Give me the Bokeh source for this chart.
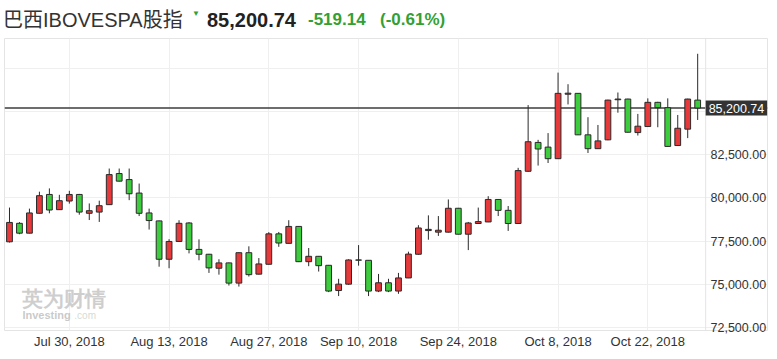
from bokeh.plotting import figure
from bokeh.models import (Range1d, FixedTicker, Span, Label, Div, ColumnDataSource,
                          NumeralTickFormatter)
from bokeh.layouts import column
from bokeh.embed import file_html
from bokeh.resources import INLINE

# ---------------- data ----------------
dates = [
    "2018-07-20", "2018-07-23", "2018-07-24", "2018-07-25", "2018-07-26", "2018-07-27",
    "2018-07-30", "2018-07-31", "2018-08-01", "2018-08-02", "2018-08-03",
    "2018-08-06", "2018-08-07", "2018-08-08", "2018-08-09", "2018-08-10",
    "2018-08-13", "2018-08-14", "2018-08-15", "2018-08-16", "2018-08-17",
    "2018-08-20", "2018-08-21", "2018-08-22", "2018-08-23", "2018-08-24",
    "2018-08-27", "2018-08-28", "2018-08-29", "2018-08-30", "2018-08-31",
    "2018-09-03", "2018-09-04", "2018-09-05", "2018-09-06",
    "2018-09-10", "2018-09-11", "2018-09-12", "2018-09-13", "2018-09-14",
    "2018-09-17", "2018-09-18", "2018-09-19", "2018-09-20", "2018-09-21",
    "2018-09-24", "2018-09-25", "2018-09-26", "2018-09-27", "2018-09-28",
    "2018-10-01", "2018-10-02", "2018-10-03", "2018-10-04", "2018-10-05",
    "2018-10-08", "2018-10-09", "2018-10-10", "2018-10-11",
    "2018-10-15", "2018-10-16", "2018-10-17", "2018-10-18", "2018-10-19",
    "2018-10-22", "2018-10-23", "2018-10-24", "2018-10-25", "2018-10-26",
    "2018-10-29",
]

opens = [77460, 78530, 77960, 79110, 80200, 79320, 79820, 80200, 79110, 79180,
         79610, 81410, 81060, 80280, 79130, 78670, 76450, 77480, 78550, 77020,
         76740, 75930, 76240, 75070, 76830, 75590, 76160, 77920, 77370, 78350,
         76310, 76620, 76100, 74640, 75010, 76410, 76390, 74610, 75090, 74610,
         75370, 76740, 78110, 78020, 78020, 79400, 77900, 78520, 78610, 79910,
         79280, 78520, 81540, 83210, 82940, 82270, 86000, 86050, 83650, 82850,
         83360, 85680, 85720, 83780, 84130, 85530, 85220, 83030, 83980, 85660]

highs = [79440, 78600, 79380, 80360, 80550, 80180, 80410, 80230, 79680, 79840,
         81700, 81700, 81700, 80830, 79380, 78690, 77610, 78710, 78600, 77600,
         76760, 76450, 76260, 76850, 77200, 76520, 78020, 78030, 78710, 78370,
         77100, 76640, 76120, 75320, 76450, 77270, 76400, 75600, 75320, 75660,
         76890, 78420, 78990, 78950, 79910, 79420, 78610, 79440, 80100, 79930,
         79530, 81740, 85370, 83360, 83750, 87250, 86580, 86070, 84670, 84220,
         85680, 86100, 85740, 84860, 85760, 85560, 85760, 84800, 85740, 88340]

lows = [77420, 77900, 77950, 79100, 79110, 79300, 79670, 79030, 78720, 78610,
        79600, 80950, 79870, 78950, 78170, 76020, 75930, 77470, 76790, 76390,
        75660, 75560, 74930, 74870, 75450, 75570, 76150, 77170, 77360, 76290,
        76050, 75740, 74550, 74320, 74970, 76080, 74320, 74550, 74550, 74450,
        75360, 76720, 77580, 77800, 78000, 77890, 76980, 78510, 78600, 78950,
        78090, 78500, 81520, 81870, 82020, 82250, 85410, 83640, 82600, 82830,
        83340, 84930, 83790, 83610, 84110, 84090, 82960, 83010, 83460, 84510]

closes = [78580, 77960, 79130, 80130, 79300, 79840, 80200, 79180, 79260, 79550,
          81350, 80970, 80240, 79110, 78690, 76450, 77480, 78530, 77020, 76740,
          75950, 76240, 75070, 76830, 75560, 76180, 77920, 77390, 78350, 76310,
          76620, 76080, 74610, 75010, 76410, 76400, 74610, 75090, 74610, 75370,
          76750, 78260, 78180, 78130, 79400, 77900, 78550, 78630, 79910, 79280,
          78520, 81580, 83250, 82830, 82270, 86050, 86060, 83650, 82850, 83300,
          85660, 85720, 83800, 84150, 85530, 85220, 82980, 84030, 85720, 85200.74]

tick_dates = ["2018-07-30", "2018-08-13", "2018-08-27", "2018-09-10",
              "2018-09-24", "2018-10-08", "2018-10-22"]
tick_labels = ["Jul 30, 2018", "Aug 13, 2018", "Aug 27, 2018", "Sep 10, 2018",
               "Sep 24, 2018", "Oct 8, 2018", "Oct 22, 2018"]
y_label_ticks = [72500, 75000, 77500, 80000, 82500]
y_grid_ticks = [72500, 75000, 77500, 80000, 82500, 85000, 87500]

title_name = "巴西IBOVESPA股指"
last_price = 85200.74
last_price_text = "85,200.74"
change_text = "-519.14"
change_pct_text = "(-0.61%)"
watermark_cn = "英为财情"
watermark_en = "Investing"
watermark_com = ".com"

# ---------------- styling ----------------
UP_FILL = "#e5393b"
DOWN_FILL = "#3dcc3d"
EDGE = "#2a2a2a"
GREEN_TXT = "#33a033"
FONT = "Liberation Sans"
X_START, X_PLOT_END, X_END = -0.5, 69.8, 76.0   # chart area ends at 69.8, price-scale strip after

n = len(dates)
xs = list(range(n))
inc = [c >= o for o, c in zip(opens, closes)]
src = ColumnDataSource(dict(
    x=xs, high=highs, low=lows,
    top=[max(o, c) for o, c in zip(opens, closes)],
    bottom=[min(o, c) for o, c in zip(opens, closes)],
    fill=[UP_FILL if u else DOWN_FILL for u in inc],
))

p = figure(width=769, height=313, x_range=Range1d(X_START, X_END),
           y_range=Range1d(72328, 89224), output_backend="svg",
           toolbar_location=None, y_axis_location="right",
           min_border_left=4, min_border_right=0, min_border_top=0,
           min_border_bottom=19)
p.margin = (0, 0, 0, 0)
p.background_fill_color = "white"
p.border_fill_color = "white"
p.outline_line_color = "#e4e4e4"

tick_idx = [dates.index(d) for d in tick_dates]
p.xaxis.ticker = FixedTicker(ticks=tick_idx)
p.xaxis.major_label_overrides = {i: l for i, l in zip(tick_idx, tick_labels)}
p.xgrid.ticker = FixedTicker(ticks=tick_idx)
p.yaxis.ticker = FixedTicker(ticks=y_label_ticks)
p.ygrid.ticker = FixedTicker(ticks=y_grid_ticks)
p.yaxis.formatter = NumeralTickFormatter(format="0,0.00")

for ax in (p.xaxis[0], p.yaxis[0]):
    ax.axis_line_color = None
    ax.major_tick_line_color = None
    ax.minor_tick_line_color = None
    ax.major_tick_out = 0
    ax.major_tick_in = 0
    ax.minor_tick_out = 0
    ax.minor_tick_in = 0
    ax.major_label_text_font = FONT
    ax.major_label_text_color = "#333333"
p.xaxis.major_label_text_font_size = "13px"
p.xaxis.major_label_standoff = 3
p.yaxis.major_label_text_font_size = "12.5px"
# price-scale labels sit inside the strip to the right of the chart area
p.yaxis.major_label_standoff = -57

p.xgrid.grid_line_color = "#efefef"
p.ygrid.grid_line_color = "#efefef"

# separator between chart area and price scale
p.add_layout(Span(location=X_PLOT_END, dimension="height", line_color="#e4e4e4",
                  line_width=1))

# current price line
p.add_layout(Span(location=last_price, dimension="width", line_color="#3c3c3c",
                  line_width=1.6, level="underlay"))

# watermark
p.add_layout(Label(x=1.3, y=74180, text=watermark_cn, text_font=FONT,
                   text_font_size="21px", text_font_style="bold",
                   text_color="#c6c6c6", text_baseline="middle", text_alpha=0.85))
p.add_layout(Label(x=1.3, y=73220, text=watermark_en, text_font=FONT,
                   text_font_size="11px", text_font_style="bold",
                   text_color="#c0c0c0", text_baseline="middle", text_alpha=0.85))
p.add_layout(Label(x=6.5, y=73220, text=watermark_com, text_font=FONT,
                   text_font_size="10px", text_color="#cbd6cb",
                   text_baseline="middle", text_alpha=0.85))

# candles
p.segment(x0="x", y0="high", x1="x", y1="low", source=src, line_color=EDGE,
          line_width=1)
p.vbar(x="x", width=0.58, top="top", bottom="bottom", source=src,
       fill_color="fill", line_color=EDGE, line_width=1)

# price tag in the price-scale strip
p.add_layout(Label(x=X_PLOT_END, y=last_price, text=last_price_text,
                   text_font=FONT, text_font_size="12.5px", text_color="white",
                   text_baseline="middle", text_align="left",
                   background_fill_color="#333333", padding=3))

head = f"""
<div style="position:relative;width:769px;height:38px;white-space:nowrap;
 font-family:'Liberation Sans','Noto Sans CJK SC',sans-serif;">
<span style="position:absolute;left:3px;top:10px;font-size:20px;line-height:20px;color:#333;">{title_name}</span>
<span style="position:absolute;left:192px;top:10px;font-size:8px;line-height:8px;color:{GREEN_TXT};">&#9660;</span>
<span style="position:absolute;left:207px;top:10px;font-size:20px;line-height:20px;font-weight:bold;color:#222;">{last_price_text}</span>
<span style="position:absolute;left:308px;top:10px;font-size:17px;line-height:20px;font-weight:bold;color:{GREEN_TXT};">{change_text}</span>
<span style="position:absolute;left:380px;top:10px;font-size:17px;line-height:20px;font-weight:bold;color:{GREEN_TXT};">{change_pct_text}</span>
</div>
"""
div = Div(text=head, width=769, height=38, margin=(0, 0, 0, 0))

layout = column(div, p, spacing=0)
open("out.html", "w").write(file_html(layout, INLINE))
